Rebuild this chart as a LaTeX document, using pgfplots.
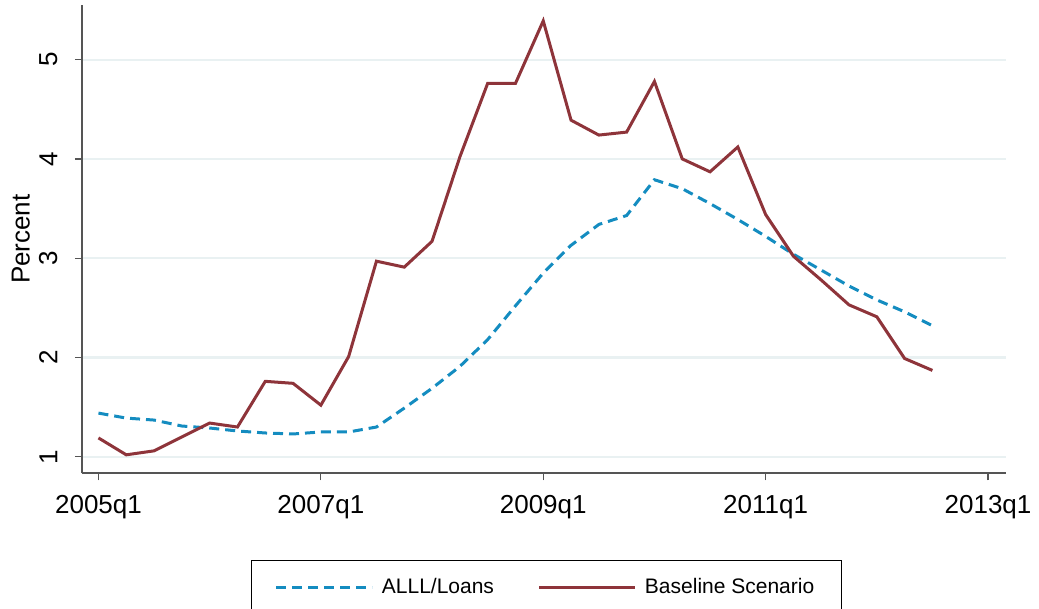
\documentclass[border=0pt]{standalone}
\usepackage{fontspec}
\setmainfont{Liberation Sans}
\usepackage{pgfplots}
\pgfplotsset{compat=1.18}
\definecolor{alllblue}{RGB}{20,140,192}
\definecolor{basered}{RGB}{142,52,58}
\definecolor{gridc}{RGB}{233,241,242}
\definecolor{axisc}{RGB}{85,85,85}

% quarter index: 0 = 2005q1
\pgfplotstableread{
q  v
0  1.44
1  1.39
2  1.37
3  1.31
4  1.29
5  1.26
6  1.24
7  1.23
8  1.25
9  1.25
10 1.30
11 1.49
12 1.69
13 1.91
14 2.18
15 2.52
16 2.85
17 3.13
18 3.34
19 3.43
20 3.79
21 3.70
22 3.55
23 3.39
24 3.22
25 3.04
26 2.88
27 2.72
28 2.58
29 2.46
30 2.32
}\alll

\pgfplotstableread{
q  v
0  1.19
1  1.02
2  1.06
3  1.20
4  1.34
5  1.30
6  1.76
7  1.74
8  1.52
9  2.01
10 2.97
11 2.91
12 3.17
13 4.02
14 4.76
15 4.76
16 5.39
17 4.39
18 4.24
19 4.27
20 4.78
21 4.00
22 3.87
23 4.12
24 3.44
25 3.02
26 2.78
27 2.53
28 2.41
29 1.99
30 1.87
}\baseline

\begin{document}
\begin{tikzpicture}
\path[use as bounding box] (-40.9pt,-67.35pt) rectangle (478.6pt,236.7pt);
\begin{axis}[
  at={(0pt,0pt)}, anchor=south west,
  scale only axis, width=462pt, height=234.2pt,
  xmin=-0.6, xmax=32.64, ymin=0.833, ymax=5.55,
  axis x line*=bottom, axis y line*=left,
  axis line style={-, draw=axisc, line width=0.9pt},
  xtick={0,8,16,24,32},
  xticklabels={2005q1,2007q1,2009q1,2011q1,2013q1},
  ytick={1,2,3,4,5},
  ymajorgrids, major grid style={draw=gridc, line width=1.1pt},
  tick align=outside, major tick length=3.5pt,
  tick style={draw=axisc, line width=0.6pt},
  /pgf/number format/assume math mode=true,
  tick label style={font=\fontsize{13}{15}\selectfont},
  xticklabel style={inner ysep=7.3pt},
  yticklabel style={rotate=90, anchor=south, inner ysep=8.5pt},
  ylabel={Percent},
  every axis y label/.style={at={(axis description cs:-0.066,0.5)}, rotate=90, anchor=center, font=\fontsize{13}{15}\selectfont},
  legend columns=2,
  legend style={at={(axis description cs:0.503,-0.185)}, anchor=north,
    draw=black, line width=0.6pt, font=\fontsize{10.5}{12}\selectfont,
    inner xsep=11.5pt, inner ysep=7pt,
    /tikz/every even column/.append style={column sep=20pt}},
  legend cell align=left,
  legend image code/.code={\draw[#1] (0pt,0pt) -- (48pt,0pt);},
]
\addplot[alllblue, line width=1.5pt, dash pattern=on 5pt off 3pt] table[x=q, y=v] {\alll};
\addplot[basered, line width=1.5pt] table[x=q, y=v] {\baseline};
\legend{\hspace{2pt}ALLL/Loans, \hspace{2pt}Baseline Scenario}
\end{axis}
\end{tikzpicture}
\end{document}
